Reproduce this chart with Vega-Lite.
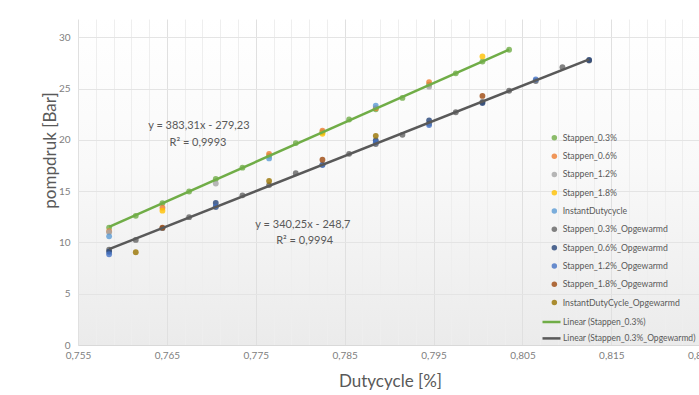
{
  "$schema": "https://vega.github.io/schema/vega-lite/v6.json",
  "width": 640,
  "height": 326,
  "autosize": {"type": "none"},
  "padding": {"left": 78, "top": 19, "right": -19, "bottom": 50},
  "datasets": {
    "points": [
      {"series": "Stappen_0.3%", "x": 0.7585, "y": 11.45},
      {"series": "Stappen_0.3%", "x": 0.7615, "y": 12.6},
      {"series": "Stappen_0.3%", "x": 0.7645, "y": 13.84},
      {"series": "Stappen_0.3%", "x": 0.7675, "y": 14.97},
      {"series": "Stappen_0.3%", "x": 0.7705, "y": 16.2},
      {"series": "Stappen_0.3%", "x": 0.7735, "y": 17.3},
      {"series": "Stappen_0.3%", "x": 0.7765, "y": 18.45},
      {"series": "Stappen_0.3%", "x": 0.7795, "y": 19.7},
      {"series": "Stappen_0.3%", "x": 0.7825, "y": 20.75},
      {"series": "Stappen_0.3%", "x": 0.7855, "y": 22.0},
      {"series": "Stappen_0.3%", "x": 0.7885, "y": 23.0},
      {"series": "Stappen_0.3%", "x": 0.7915, "y": 24.1},
      {"series": "Stappen_0.3%", "x": 0.7945, "y": 25.4},
      {"series": "Stappen_0.3%", "x": 0.7975, "y": 26.5},
      {"series": "Stappen_0.3%", "x": 0.8005, "y": 27.65},
      {"series": "Stappen_0.3%", "x": 0.8035, "y": 28.8},
      {"series": "Stappen_0.6%", "x": 0.7585, "y": 11.1},
      {"series": "Stappen_0.6%", "x": 0.7645, "y": 13.4},
      {"series": "Stappen_0.6%", "x": 0.7765, "y": 18.65},
      {"series": "Stappen_0.6%", "x": 0.7825, "y": 20.9},
      {"series": "Stappen_0.6%", "x": 0.7885, "y": 23.1},
      {"series": "Stappen_0.6%", "x": 0.7945, "y": 25.65},
      {"series": "Stappen_1.2%", "x": 0.7585, "y": 11.0},
      {"series": "Stappen_1.2%", "x": 0.7705, "y": 15.75},
      {"series": "Stappen_1.2%", "x": 0.7945, "y": 25.2},
      {"series": "Stappen_1.8%", "x": 0.7645, "y": 13.1},
      {"series": "Stappen_1.8%", "x": 0.7825, "y": 20.6},
      {"series": "Stappen_1.8%", "x": 0.8005, "y": 28.15},
      {"series": "InstantDutycycle", "x": 0.7585, "y": 10.6},
      {"series": "InstantDutycycle", "x": 0.7765, "y": 18.2},
      {"series": "InstantDutycycle", "x": 0.7885, "y": 23.35},
      {"series": "Stappen_0.3%_Opgewarmd", "x": 0.7585, "y": 9.3},
      {"series": "Stappen_0.3%_Opgewarmd", "x": 0.7615, "y": 10.25},
      {"series": "Stappen_0.3%_Opgewarmd", "x": 0.7645, "y": 11.4},
      {"series": "Stappen_0.3%_Opgewarmd", "x": 0.7675, "y": 12.47},
      {"series": "Stappen_0.3%_Opgewarmd", "x": 0.7705, "y": 13.46},
      {"series": "Stappen_0.3%_Opgewarmd", "x": 0.7735, "y": 14.6},
      {"series": "Stappen_0.3%_Opgewarmd", "x": 0.7765, "y": 15.6},
      {"series": "Stappen_0.3%_Opgewarmd", "x": 0.7795, "y": 16.75},
      {"series": "Stappen_0.3%_Opgewarmd", "x": 0.7825, "y": 17.6},
      {"series": "Stappen_0.3%_Opgewarmd", "x": 0.7855, "y": 18.65},
      {"series": "Stappen_0.3%_Opgewarmd", "x": 0.7885, "y": 19.6},
      {"series": "Stappen_0.3%_Opgewarmd", "x": 0.7915, "y": 20.5},
      {"series": "Stappen_0.3%_Opgewarmd", "x": 0.7945, "y": 21.6},
      {"series": "Stappen_0.3%_Opgewarmd", "x": 0.7975, "y": 22.7},
      {"series": "Stappen_0.3%_Opgewarmd", "x": 0.8005, "y": 23.7},
      {"series": "Stappen_0.3%_Opgewarmd", "x": 0.8035, "y": 24.8},
      {"series": "Stappen_0.3%_Opgewarmd", "x": 0.8065, "y": 25.75},
      {"series": "Stappen_0.3%_Opgewarmd", "x": 0.8095, "y": 27.1},
      {"series": "Stappen_0.3%_Opgewarmd", "x": 0.8125, "y": 27.75},
      {"series": "Stappen_0.6%_Opgewarmd", "x": 0.7585, "y": 9.1},
      {"series": "Stappen_0.6%_Opgewarmd", "x": 0.7705, "y": 13.85},
      {"series": "Stappen_0.6%_Opgewarmd", "x": 0.7885, "y": 19.95},
      {"series": "Stappen_0.6%_Opgewarmd", "x": 0.7945, "y": 21.9},
      {"series": "Stappen_0.6%_Opgewarmd", "x": 0.8005, "y": 23.6},
      {"series": "Stappen_0.6%_Opgewarmd", "x": 0.8125, "y": 27.8},
      {"series": "Stappen_1.2%_Opgewarmd", "x": 0.7585, "y": 8.85},
      {"series": "Stappen_1.2%_Opgewarmd", "x": 0.7705, "y": 13.5},
      {"series": "Stappen_1.2%_Opgewarmd", "x": 0.7825, "y": 17.55},
      {"series": "Stappen_1.2%_Opgewarmd", "x": 0.7885, "y": 19.75},
      {"series": "Stappen_1.2%_Opgewarmd", "x": 0.7945, "y": 21.45},
      {"series": "Stappen_1.2%_Opgewarmd", "x": 0.8065, "y": 25.9},
      {"series": "Stappen_1.8%_Opgewarmd", "x": 0.7645, "y": 11.45},
      {"series": "Stappen_1.8%_Opgewarmd", "x": 0.7825, "y": 18.07},
      {"series": "Stappen_1.8%_Opgewarmd", "x": 0.8005, "y": 24.3},
      {"series": "InstantDutyCycle_Opgewarmd", "x": 0.7615, "y": 9.05},
      {"series": "InstantDutyCycle_Opgewarmd", "x": 0.7765, "y": 16.0},
      {"series": "InstantDutyCycle_Opgewarmd", "x": 0.7885, "y": 20.4}
    ],
    "notes": [
      {"text": "y = 383,31x - 279,23", "x": 0.7686, "y": 21.32},
      {"text": "R² = 0,9993", "x": 0.7685, "y": 19.7},
      {"text": "y = 340,25x - 248,7", "x": 0.7803, "y": 11.72},
      {"text": "R² = 0,9994", "x": 0.7805, "y": 10.16}
    ]
  },
  "resolve": {"axis": {"x": "independent"}},
  "layer": [
    {
      "data": {"name": "notes"},
      "mark": {"type": "text", "opacity": 0},
      "encoding": {
        "x": {
          "field": "x", "type": "quantitative",
          "scale": {"domain": [0.755, 0.827], "nice": false, "zero": false},
          "axis": {
            "orient": "bottom",
            "title": null,
            "values": [0.757, 0.759, 0.761, 0.763, 0.767, 0.769, 0.771, 0.773, 0.777, 0.779, 0.781, 0.783, 0.787, 0.789, 0.791, 0.793, 0.797, 0.799, 0.801, 0.803, 0.807, 0.809, 0.811, 0.813, 0.817, 0.819, 0.821, 0.823, 0.827],
            "labels": false,
            "ticks": false,
            "domain": false,
            "grid": true,
            "gridColor": "#eeeeee"
          }
        },
        "y": {"field": "y", "type": "quantitative"},
        "text": {"field": "text", "type": "nominal"}
      }
    },
    {
      "data": {"name": "points"},
      "mark": {"type": "point", "filled": true, "size": 34, "opacity": 0.8},
      "encoding": {
        "x": {
          "field": "x", "type": "quantitative",
          "scale": {"domain": [0.755, 0.827], "nice": false, "zero": false},
          "axis": {
            "orient": "bottom",
            "title": "Dutycycle [%]",
            "values": [0.755, 0.765, 0.775, 0.785, 0.795, 0.805, 0.815, 0.825],
            "labelExpr": "replace(format(datum.value, '.3f'), '.', ',')",
            "labelOverlap": false,
            "labelFlush": false,
            "labelPadding": 5,
            "ticks": false,
            "domain": true,
            "domainColor": "#d9d9d9",
            "grid": true,
            "gridColor": "#e0e0e0",
            "titleX": 312,
            "titleY": 36,
            "titleBaseline": "middle",
            "titleAnchor": "middle"
          }
        },
        "y": {
          "field": "y", "type": "quantitative",
          "scale": {"domain": [0, 31.8], "nice": false},
          "axis": {
            "title": "pompdruk [Bar]",
            "values": [0, 5, 10, 15, 20, 25, 30],
            "ticks": false,
            "domain": false,
            "labelPadding": 8,
            "gridColor": "#e4e4e4",
            "titleX": -28,
            "titleY": 131,
            "titleBaseline": "middle",
            "titleAnchor": "middle"
          }
        },
        "fill": {
          "field": "series", "type": "nominal",
          "scale": {
            "domain": ["Stappen_0.3%", "Stappen_0.6%", "Stappen_1.2%", "Stappen_1.8%", "InstantDutycycle", "Stappen_0.3%_Opgewarmd", "Stappen_0.6%_Opgewarmd", "Stappen_1.2%_Opgewarmd", "Stappen_1.8%_Opgewarmd", "InstantDutyCycle_Opgewarmd"],
            "range": ["#70ad47", "#ed7d31", "#a5a5a5", "#ffc000", "#5b9bd5", "#636363", "#264478", "#4472c4", "#9e480e", "#997300"]
          },
          "legend": {
            "title": null,
            "orient": "none",
            "legendX": 472,
            "legendY": 114.5,
            "symbolType": "circle",
            "symbolSize": 30,
            "symbolOpacity": 0.8,
            "symbolStrokeWidth": 0,
            "labelFontSize": 8.7,
            "labelColor": "#595959",
            "labelOffset": 4,
            "rowPadding": 8.3,
            "padding": 0
          }
        }
      }
    },
    {
      "data": {"name": "points"},
      "transform": [
        {"filter": {"field": "series", "oneOf": ["Stappen_0.3%", "Stappen_0.3%_Opgewarmd"]}},
        {"regression": "y", "on": "x", "groupby": ["series"]}
      ],
      "mark": {"type": "line", "strokeWidth": 2.5},
      "encoding": {
        "x": {"field": "x", "type": "quantitative", "axis": null},
        "y": {"field": "y", "type": "quantitative"},
        "stroke": {
          "field": "series", "type": "nominal",
          "scale": {"domain": ["Stappen_0.3%", "Stappen_0.3%_Opgewarmd"], "range": ["#70ad47", "#595959"]},
          "legend": {
            "title": null,
            "orient": "none",
            "legendX": 463,
            "legendY": 292.5,
            "symbolType": "stroke",
            "symbolSize": 324,
            "symbolStrokeWidth": 2.5,
            "labelFontSize": 8.5,
            "labelColor": "#595959",
            "labelOffset": 1,
            "rowPadding": 0.4,
            "padding": 0,
            "labelExpr": "'Linear (' + datum.label + ')'"
          }
        }
      }
    },
    {
      "data": {"name": "notes"},
      "mark": {"type": "text", "fontSize": 11, "color": "#595959", "align": "center", "baseline": "middle"},
      "encoding": {
        "x": {"field": "x", "type": "quantitative", "axis": null},
        "y": {"field": "y", "type": "quantitative"},
        "text": {"field": "text", "type": "nominal"}
      }
    }
  ],
  "config": {
    "font": "Lato",
    "view": {
      "stroke": null,
      "fill": {"gradient": "linear", "x1": 0, "y1": 0, "x2": 0, "y2": 1, "stops": [{"offset": 0, "color": "#ffffff"}, {"offset": 0.45, "color": "#f9f9f9"}, {"offset": 1, "color": "#ebebeb"}]}
    },
    "axis": {
      "labelFont": "Lato",
      "labelFontSize": 10,
      "labelColor": "#808080",
      "titleFont": "Lato",
      "titleFontSize": 17,
      "titleFontWeight": "normal",
      "titleColor": "#595959",
      "grid": true
    },
    "axisX": {"labelOverlap": false, "labelFlush": false},
    "legend": {"labelFont": "Lato"}
  }
}
